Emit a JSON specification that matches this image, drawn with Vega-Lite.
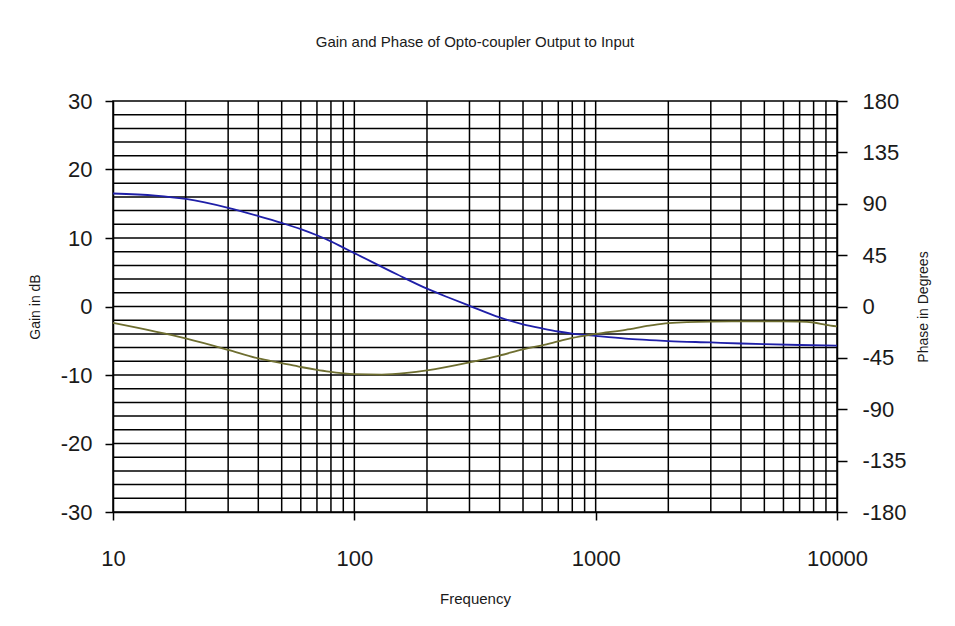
{
  "$schema": "https://vega.github.io/schema/vega-lite/v6.json",
  "width": 724,
  "height": 411,
  "autosize": {"type": "none"},
  "padding": {"left": 113, "top": 101, "right": 118, "bottom": 114},
  "background": "white",
  "config": {
    "view": {"stroke": "black", "strokeWidth": 1.5},
    "font": "Liberation Sans",
    "axis": {"domainColor": "black", "domainWidth": 1.5, "tickColor": "black", "tickWidth": 1.5, "labelColor": "#1a1a1a", "titleColor": "#1a1a1a", "titleFontWeight": "normal", "grid": false, "labelFlush": false}
  },
  "title": {"text": "Gain and Phase of Opto-coupler Output to Input", "fontSize": 15, "fontWeight": "normal", "color": "#1a1a1a", "anchor": "middle", "offset": 40},
  "datasets": {
    "vgrid": [
      {"f": 20}, {"f": 30}, {"f": 40}, {"f": 50}, {"f": 60}, {"f": 70}, {"f": 80}, {"f": 90},
      {"f": 100}, {"f": 200}, {"f": 300}, {"f": 400}, {"f": 500}, {"f": 600}, {"f": 700}, {"f": 800}, {"f": 900},
      {"f": 1000}, {"f": 2000}, {"f": 3000}, {"f": 4000}, {"f": 5000}, {"f": 6000}, {"f": 7000}, {"f": 8000}, {"f": 9000}
    ],
    "hgrid": [
      {"db": -28}, {"db": -26}, {"db": -24}, {"db": -22}, {"db": -20}, {"db": -18}, {"db": -16}, {"db": -14}, {"db": -12}, {"db": -10},
      {"db": -8}, {"db": -6}, {"db": -4}, {"db": -2}, {"db": 0}, {"db": 2}, {"db": 4}, {"db": 6}, {"db": 8}, {"db": 10},
      {"db": 12}, {"db": 14}, {"db": 16}, {"db": 18}, {"db": 20}, {"db": 22}, {"db": 24}, {"db": 26}, {"db": 28}
    ],
    "gain": [
      {"f": 10, "gain": 16.5}, {"f": 15, "gain": 16.2}, {"f": 20, "gain": 15.7}, {"f": 30, "gain": 14.4},
      {"f": 40, "gain": 13.2}, {"f": 50, "gain": 12.2}, {"f": 60, "gain": 11.3}, {"f": 70, "gain": 10.4},
      {"f": 80, "gain": 9.5}, {"f": 90, "gain": 8.6}, {"f": 100, "gain": 7.8}, {"f": 150, "gain": 4.7},
      {"f": 200, "gain": 2.6}, {"f": 250, "gain": 1.2}, {"f": 300, "gain": 0.1}, {"f": 400, "gain": -1.6},
      {"f": 500, "gain": -2.6}, {"f": 600, "gain": -3.2}, {"f": 700, "gain": -3.65}, {"f": 800, "gain": -3.95},
      {"f": 1000, "gain": -4.3}, {"f": 1330, "gain": -4.7}, {"f": 1670, "gain": -4.9}, {"f": 2000, "gain": -5.05},
      {"f": 3000, "gain": -5.25}, {"f": 4000, "gain": -5.4}, {"f": 5000, "gain": -5.5}, {"f": 7000, "gain": -5.62},
      {"f": 10000, "gain": -5.7}
    ],
    "phase": [
      {"f": 10, "phase": -14.4}, {"f": 20, "phase": -28}, {"f": 30, "phase": -38}, {"f": 40, "phase": -45.5},
      {"f": 50, "phase": -49.5}, {"f": 60, "phase": -53}, {"f": 70, "phase": -55.5}, {"f": 80, "phase": -57.2},
      {"f": 90, "phase": -58.5}, {"f": 100, "phase": -59.2}, {"f": 130, "phase": -59.6}, {"f": 165, "phase": -58.2},
      {"f": 200, "phase": -56}, {"f": 300, "phase": -49}, {"f": 400, "phase": -43}, {"f": 500, "phase": -37.5},
      {"f": 600, "phase": -34}, {"f": 700, "phase": -30.5}, {"f": 800, "phase": -27.5}, {"f": 1000, "phase": -24},
      {"f": 1330, "phase": -20.4}, {"f": 1670, "phase": -16.8}, {"f": 2000, "phase": -14.6}, {"f": 3000, "phase": -13.2},
      {"f": 4000, "phase": -13}, {"f": 5000, "phase": -13}, {"f": 7000, "phase": -13.2}, {"f": 8000, "phase": -14},
      {"f": 9000, "phase": -16}, {"f": 10000, "phase": -17.4}
    ]
  },
  "layer": [
    {
      "data": {"name": "vgrid"},
      "mark": {"type": "rule", "color": "black", "strokeWidth": 1.5},
      "encoding": {
        "x": {"field": "f", "type": "quantitative", "title": "Frequency",
              "scale": {"type": "log", "domain": [10, 10000]},
              "axis": {"values": [10, 100, 1000, 10000], "format": "d", "tickSize": 8, "labelPadding": 28, "labelFontSize": 22, "titleFontSize": 15, "titlePadding": 22}}
      }
    },
    {
      "data": {"name": "hgrid"},
      "mark": {"type": "rule", "color": "black", "strokeWidth": 1.5},
      "encoding": {
        "y": {"field": "db", "type": "quantitative", "scale": {"domain": [-30, 30]}, "axis": null}
      }
    },
    {
      "data": {"name": "gain"},
      "mark": {"type": "line", "color": "#1f1fa8", "strokeWidth": 1.8, "interpolate": "monotone"},
      "encoding": {
        "x": {"field": "f", "type": "quantitative", "title": "Frequency",
              "scale": {"type": "log", "domain": [10, 10000]},
              "axis": {"values": [10, 100, 1000, 10000], "format": "d", "tickSize": 8, "labelPadding": 28, "labelFontSize": 22, "titleFontSize": 15, "titlePadding": 22}},
        "y": {"field": "gain", "type": "quantitative", "title": "Gain in dB",
              "scale": {"domain": [-30, 30]},
              "axis": {"orient": "left", "values": [-30, -20, -10, 0, 10, 20, 30], "labelExpr": "replace(datum.label, '\u2212', '-')", "tickSize": 8, "labelPadding": 13, "labelFontSize": 22, "titleFontSize": 14, "titlePadding": 18}}
      }
    },
    {
      "data": {"name": "phase"},
      "mark": {"type": "line", "color": "#6e6e30", "strokeWidth": 1.8, "interpolate": "monotone"},
      "encoding": {
        "x": {"field": "f", "type": "quantitative", "title": "Frequency",
              "scale": {"type": "log", "domain": [10, 10000]},
              "axis": {"values": [10, 100, 1000, 10000], "format": "d", "tickSize": 8, "labelPadding": 28, "labelFontSize": 22, "titleFontSize": 15, "titlePadding": 22}},
        "y": {"field": "phase", "type": "quantitative", "title": "Phase in Degrees",
              "scale": {"domain": [-180, 180]},
              "axis": {"orient": "right", "values": [-180, -135, -90, -45, 0, 45, 90, 135, 180], "labelExpr": "replace(datum.label, '\u2212', '-')", "tickSize": 10, "labelPadding": 15, "labelFontSize": 22, "titleFontSize": 14, "titlePadding": 24, "titleAngle": 270}}
      }
    }
  ],
  "resolve": {"scale": {"y": "independent"}}
}
